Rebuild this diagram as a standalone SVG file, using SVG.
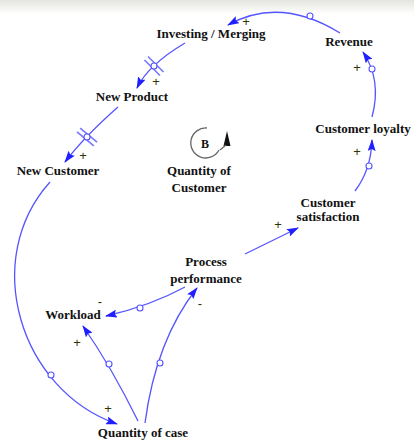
<svg xmlns="http://www.w3.org/2000/svg" width="414" height="441" viewBox="0 0 414 441">
<defs>
<linearGradient id="shade" x1="0" y1="0" x2="0" y2="1">
<stop offset="0" stop-color="#e4e4df"/>
<stop offset="1" stop-color="#ffffff"/>
</linearGradient>
<marker id="arr" viewBox="0 0 12 8" refX="11" refY="4" markerWidth="12" markerHeight="8" markerUnits="userSpaceOnUse" orient="auto">
<path d="M0,0 L12,4 L0,8 L2,4 Z" fill="#1f1fff"/>
</marker>
<style>
.lbl{font-family:"Liberation Serif","Times New Roman",serif;font-weight:bold;font-size:13px;fill:#111;text-anchor:middle}
.sgn{font-family:"Liberation Sans",Arial,sans-serif;font-size:13px;fill:#333300;text-anchor:middle}
.cn{fill:none;stroke:#5555ff;stroke-width:1.3}
.dot{fill:#fff;stroke:#5555ff;stroke-width:1.1}
.hash{stroke:#7777ff;stroke-width:1.6}
</style>
</defs>
<rect x="0" y="0" width="414" height="14" fill="url(#shade)"/>
<rect width="414" height="441" fill="#fff" y="14"/>

<g id="connectors">
<path class="cn" d="M340,33 Q280,-4 228,25" marker-end="url(#arr)"/>
<circle class="dot" cx="310" cy="16" r="3"/>
<text class="sgn" x="246" y="26">+</text>

<path class="cn" d="M185,43 Q148,65 137,88" marker-end="url(#arr)"/>
<g transform="translate(154,66) rotate(45)"><line class="hash" x1="-11" y1="-2.5" x2="11" y2="-2.5"/><line class="hash" x1="-11" y1="2.5" x2="11" y2="2.5"/></g>
<circle class="dot" cx="154" cy="66" r="3"/>
<text class="sgn" x="156" y="86">+</text>

<path class="cn" d="M118,107 Q84,137 65,162" marker-end="url(#arr)"/>
<g transform="translate(87,137) rotate(40)"><line class="hash" x1="-11" y1="-2.5" x2="11" y2="-2.5"/><line class="hash" x1="-11" y1="2.5" x2="11" y2="2.5"/></g>
<circle class="dot" cx="87" cy="137" r="3"/>
<text class="sgn" x="83" y="160">+</text>

<path class="cn" d="M50,182 C-20,260 20,390 117,424" marker-end="url(#arr)"/>
<circle class="dot" cx="51" cy="375" r="3"/>
<text class="sgn" x="108" y="413">+</text>

<path class="cn" d="M138,421 Q112,368 83,326" marker-end="url(#arr)"/>
<circle class="dot" cx="109" cy="364" r="3"/>
<text class="sgn" x="77" y="347">+</text>

<path class="cn" d="M145,423 Q156,340 197,288" marker-end="url(#arr)"/>
<circle class="dot" cx="160" cy="363" r="3"/>
<text class="sgn" x="200" y="308">-</text>

<path class="cn" d="M185,287 Q150,306 106,316" marker-end="url(#arr)"/>
<circle class="dot" cx="140" cy="308" r="3"/>
<text class="sgn" x="100" y="306">-</text>

<path class="cn" d="M245,254 L298,228" marker-end="url(#arr)"/>
<text class="sgn" x="278" y="229">+</text>

<path class="cn" d="M355,191 Q371,170 372,140" marker-end="url(#arr)"/>
<circle class="dot" cx="369" cy="166" r="3"/>
<text class="sgn" x="357" y="156">+</text>

<path class="cn" d="M372,117 Q382,80 363,52" marker-end="url(#arr)"/>
<circle class="dot" cx="372" cy="69" r="3"/>
<text class="sgn" x="357" y="72">+</text>
</g>

<g id="loopB">
<path d="M207,128 A15,15 0 1 0 219,150" fill="none" stroke="#666" stroke-width="1.3"/>
<polygon points="227,131 223.5,146 230.5,146" fill="#111"/>
<line x1="226" y1="145" x2="220" y2="150" stroke="#666" stroke-width="1.3"/>
<text class="lbl" x="205" y="148" style="font-size:12px">B</text>
</g>

<g id="investing"><text class="lbl" x="211" y="38">Investing / Merging</text></g>
<g id="revenue"><text class="lbl" x="349" y="46">Revenue</text></g>
<g id="newproduct"><text class="lbl" x="132" y="101">New Product</text></g>
<g id="newcustomer"><text class="lbl" x="58" y="175">New Customer</text></g>
<g id="loyalty"><text class="lbl" x="363" y="133">Customer loyalty</text></g>
<g id="satisfaction"><text class="lbl" x="328" y="207">Customer</text><text class="lbl" x="328" y="221">satisfaction</text></g>
<g id="qtycustomer"><text class="lbl" x="199" y="175">Quantity of</text><text class="lbl" x="199" y="192">Customer</text></g>
<g id="process"><text class="lbl" x="206" y="266">Process</text><text class="lbl" x="206" y="283">performance</text></g>
<g id="workload"><text class="lbl" x="73" y="319">Workload</text></g>
<g id="qtycase"><text class="lbl" x="143" y="437">Quantity of case</text></g>
</svg>
